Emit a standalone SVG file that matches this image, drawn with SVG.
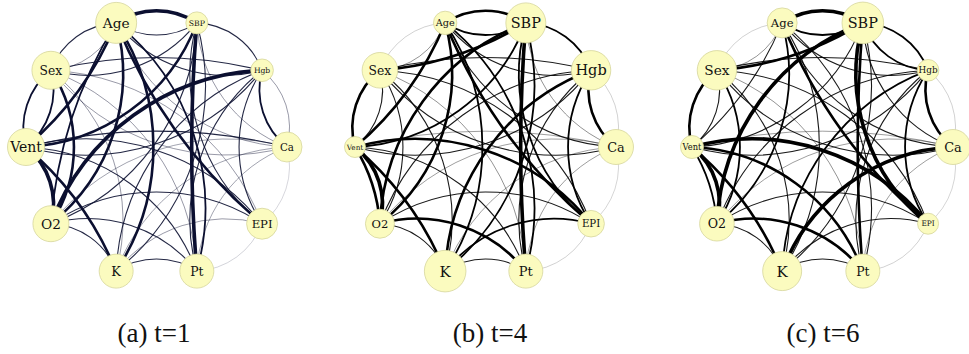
<svg xmlns="http://www.w3.org/2000/svg" xmlns:xlink="http://www.w3.org/1999/xlink" width="969" height="354" viewBox="0 0 969 354">
<style>
.e{fill:none}
.pa{stroke:#0b0f30}
.pb,.pc{stroke:#000}
.pa use,.pb use,.pc use{stroke-linecap:round}
.t0{stroke-width:.6;stroke-opacity:.28}
.t1{stroke-width:.7;stroke-opacity:.55}
.t2{stroke-width:1.1;stroke-opacity:.9}
.t3{stroke-width:1.8}
.t4{stroke-width:2.6}
.t5{stroke-width:3.6}
.n circle{fill:#fbfbbf;stroke:#d6d69c;stroke-width:.8}
.n text{font-family:"DejaVu Serif","Liberation Serif",serif;text-anchor:middle;fill:#111}
.cap{font-family:"Liberation Serif","Times New Roman",serif;font-size:27px;fill:#111;text-anchor:middle}
</style>
<defs>
<path id="a1" class="e" d="M130.5 0A73.2 73.2 0 0 0 105.58 76.71"/>
<path id="o1" class="e" d="M130.5 0A73.2 73.2 0 0 1 105.58 76.71"/>
<path id="b1" class="e" d="M130.5 0A170.4 170.4 0 0 0 105.58 76.71"/>
<path id="a2" class="e" d="M130.5 0A139.3 139.3 0 0 0 40.33 124.11"/>
<path id="b2" class="e" d="M130.5 0A324.2 324.2 0 0 0 40.33 124.11"/>
<path id="a3" class="e" d="M130.5 0A191.8 191.8 0 0 0 -40.33 124.11"/>
<path id="p3" class="e" d="M130.5 0A446.3 446.3 0 0 1 -40.33 124.11"/>
<path id="a4" class="e" d="M130.5 0A225.4 225.4 0 0 0 -105.58 76.71"/>
<path id="b4" class="e" d="M130.5 0A524.5 524.5 0 0 0 -105.58 76.71"/>
<path id="o4" class="e" d="M130.5 0A225.4 225.4 0 0 1 -105.58 76.71"/>
<path id="s4" class="e" d="M130.5 0A1500 1500 0 0 0 -105.58 76.71"/>
<path id="a5" class="e" d="M130.5 0A237 237 0 0 0 -130.5 0"/>
<path id="o5" class="e" d="M130.5 0A237 237 0 0 1 -130.5 0"/>
<path id="b5" class="e" d="M130.5 0A551.6 551.6 0 0 0 -130.5 0"/>
</defs>

<!-- Panel (a) -->
<g transform="translate(156.5,147)">
<g id="connectors-a" class="pa">
<use href="#o1" transform="rotate(0)" class="t0"/>
<use href="#o1" transform="rotate(36)" class="t0"/>
<use href="#a1" transform="rotate(72)" class="t2"/>
<use href="#a1" transform="rotate(108)" class="t2"/>
<use href="#a1" transform="rotate(144)" class="t5"/>
<use href="#o1" transform="rotate(180)" class="t3"/>
<use href="#a1" transform="rotate(180)" class="t3"/>
<use href="#o1" transform="rotate(216)" class="t2"/>
<use href="#a1" transform="rotate(216)" class="t1"/>
<use href="#o1" transform="rotate(252)" class="t5"/>
<use href="#a1" transform="rotate(252)" class="t2"/>
<use href="#o1" transform="rotate(288)" class="t2"/>
<use href="#a1" transform="rotate(324)" class="t3"/>
<use href="#o1" transform="rotate(324)" class="t1"/>
<use href="#a2" transform="rotate(0)" class="t1"/>
<use href="#a2" transform="rotate(36)" class="t1"/>
<use href="#a2" transform="rotate(72)" class="t2"/>
<use href="#b2" transform="rotate(108)" class="t4"/>
<use href="#a2" transform="rotate(144)" class="t4"/>
<use href="#b2" transform="rotate(180)" class="t4"/>
<use href="#a2" transform="rotate(216)" class="t2"/>
<use href="#a2" transform="rotate(252)" class="t2"/>
<use href="#a2" transform="rotate(288)" class="t1"/>
<use href="#a2" transform="rotate(324)" class="t2"/>
<use href="#a3" transform="rotate(0)" class="t1"/>
<use href="#a3" transform="rotate(36)" class="t2"/>
<use href="#a3" transform="rotate(72)" class="t2"/>
<use href="#a3" transform="rotate(108)" class="t1"/>
<use href="#a3" transform="rotate(144)" class="t4"/>
<use href="#p3" transform="rotate(144)" class="t3"/>
<use href="#a3" transform="rotate(180)" class="t4"/>
<use href="#p3" transform="rotate(216)" class="t2"/>
<use href="#a3" transform="rotate(252)" class="t1"/>
<use href="#a3" transform="rotate(288)" class="t2"/>
<use href="#a3" transform="rotate(324)" class="t2"/>
<use href="#a4" transform="rotate(0)" class="t1"/>
<use href="#a4" transform="rotate(36)" class="t2"/>
<use href="#a4" transform="rotate(72)" class="t1"/>
<use href="#a4" transform="rotate(108)" class="t4"/>
<use href="#a4" transform="rotate(144)" class="t2"/>
<use href="#a4" transform="rotate(180)" class="t2"/>
<use href="#a4" transform="rotate(216)" class="t1"/>
<use href="#b4" transform="rotate(252)" class="t4"/>
<use href="#s4" transform="rotate(288)" class="t5"/>
<use href="#a4" transform="rotate(324)" class="t2"/>
<use href="#b5" transform="rotate(0)" class="t2"/>
<use href="#a5" transform="rotate(36)" class="t1"/>
<use href="#a5" transform="rotate(72)" class="t3"/>
<use href="#a5" transform="rotate(108)" class="t2"/>
<use href="#o5" transform="rotate(144)" class="t5"/>
</g>
<g id="a-Ca" class="n"><circle cx="130.5" cy="0" r="15"/><text x="130.5" y="3.7" font-size="10.3">Ca</text></g>
<g id="a-EPI" class="n"><circle cx="105.58" cy="76.71" r="15.5"/><text x="105.58" y="80.9" font-size="11.6">EPI</text></g>
<g id="a-Pt" class="n"><circle cx="40.33" cy="124.11" r="17"/><text x="40.33" y="128.6" font-size="12.4">Pt</text></g>
<g id="a-K" class="n"><circle cx="-40.33" cy="124.11" r="17"/><text x="-40.33" y="128.8" font-size="12.9">K</text></g>
<g id="a-O2" class="n"><circle cx="-105.58" cy="76.71" r="18"/><text x="-105.58" y="81.6" font-size="13.7">O2</text></g>
<g id="a-Vent" class="n"><circle cx="-130.5" cy="0" r="18.5"/><text x="-130.5" y="5" font-size="14">Vent</text></g>
<g id="a-Sex" class="n"><circle cx="-105.58" cy="-76.71" r="19"/><text x="-105.58" y="-72.3" font-size="12.3">Sex</text></g>
<g id="a-Age" class="n"><circle cx="-40.33" cy="-124.11" r="20.5"/><text x="-40.33" y="-119.2" font-size="13.7">Age</text></g>
<g id="a-SBP" class="n"><circle cx="40.33" cy="-124.11" r="11"/><text x="40.33" y="-121.3" font-size="7.7">SBP</text></g>
<g id="a-Hgb" class="n"><circle cx="105.58" cy="-76.71" r="11.3"/><text x="105.58" y="-73.9" font-size="7.6">Hgb</text></g>
</g>

<!-- Panel (b) -->
<g transform="translate(485.5,147)">
<g id="connectors-b" class="pb">
<use href="#o1" transform="rotate(0)" class="t0"/>
<use href="#o1" transform="rotate(36)" class="t0"/>
<use href="#a1" transform="rotate(72)" class="t2"/>
<use href="#a1" transform="rotate(108)" class="t2"/>
<use href="#a1" transform="rotate(144)" class="t5"/>
<use href="#b1" transform="rotate(144)" class="t4"/>
<use href="#o1" transform="rotate(180)" class="t4"/>
<use href="#a1" transform="rotate(180)" class="t2"/>
<use href="#o1" transform="rotate(216)" class="t0"/>
<use href="#a1" transform="rotate(216)" class="t1"/>
<use href="#o1" transform="rotate(252)" class="t4"/>
<use href="#a1" transform="rotate(252)" class="t3"/>
<use href="#o1" transform="rotate(288)" class="t3"/>
<use href="#a1" transform="rotate(324)" class="t4"/>
<use href="#o1" transform="rotate(324)" class="t0"/>
<use href="#a2" transform="rotate(0)" class="t1"/>
<use href="#a2" transform="rotate(36)" class="t3"/>
<use href="#a2" transform="rotate(72)" class="t4"/>
<use href="#b2" transform="rotate(108)" class="t4"/>
<use href="#a2" transform="rotate(144)" class="t2"/>
<use href="#b2" transform="rotate(180)" class="t4"/>
<use href="#b2" transform="rotate(216)" class="t4"/>
<use href="#a2" transform="rotate(252)" class="t2"/>
<use href="#a2" transform="rotate(288)" class="t1"/>
<use href="#a2" transform="rotate(324)" class="t3"/>
<use href="#a3" transform="rotate(0)" class="t1"/>
<use href="#a3" transform="rotate(36)" class="t2"/>
<use href="#a3" transform="rotate(72)" class="t2"/>
<use href="#a3" transform="rotate(108)" class="t2"/>
<use href="#a3" transform="rotate(144)" class="t4"/>
<use href="#a3" transform="rotate(180)" class="t3"/>
<use href="#p3" transform="rotate(216)" class="t2"/>
<use href="#a3" transform="rotate(252)" class="t2"/>
<use href="#a3" transform="rotate(288)" class="t3"/>
<use href="#a3" transform="rotate(324)" class="t2"/>
<use href="#a4" transform="rotate(0)" class="t1"/>
<use href="#a4" transform="rotate(36)" class="t4"/>
<use href="#a4" transform="rotate(72)" class="t1"/>
<use href="#a4" transform="rotate(108)" class="t3"/>
<use href="#o4" transform="rotate(144)" class="t4"/>
<use href="#a4" transform="rotate(180)" class="t2"/>
<use href="#a4" transform="rotate(216)" class="t2"/>
<use href="#b4" transform="rotate(252)" class="t4"/>
<use href="#s4" transform="rotate(288)" class="t5"/>
<use href="#a4" transform="rotate(324)" class="t4"/>
<use href="#b5" transform="rotate(0)" class="t1"/>
<use href="#a5" transform="rotate(36)" class="t2"/>
<use href="#a5" transform="rotate(72)" class="t3"/>
<use href="#a5" transform="rotate(108)" class="t3"/>
<use href="#o5" transform="rotate(144)" class="t2"/>
</g>
<g id="b-Ca" class="n"><circle cx="130.5" cy="0" r="17.5"/><text x="130.5" y="4.6" font-size="12.9">Ca</text></g>
<g id="b-EPI" class="n"><circle cx="105.58" cy="76.71" r="13.3"/><text x="105.58" y="80.4" font-size="10.2">EPI</text></g>
<g id="b-Pt" class="n"><circle cx="40.33" cy="124.11" r="17"/><text x="40.33" y="128.7" font-size="13">Pt</text></g>
<g id="b-K" class="n"><circle cx="-40.33" cy="124.11" r="20.8"/><text x="-40.33" y="129.6" font-size="15">K</text></g>
<g id="b-O2" class="n"><circle cx="-105.58" cy="76.71" r="14.5"/><text x="-105.58" y="80.8" font-size="11.5">O2</text></g>
<g id="b-Vent" class="n"><circle cx="-130.5" cy="0" r="10.5"/><text x="-130.5" y="2.6" font-size="7.3">Vent</text></g>
<g id="b-Sex" class="n"><circle cx="-105.58" cy="-76.71" r="17.8"/><text x="-105.58" y="-72.3" font-size="12.3">Sex</text></g>
<g id="b-Age" class="n"><circle cx="-40.33" cy="-124.11" r="11.7"/><text x="-40.33" y="-120.6" font-size="9.7">Age</text></g>
<g id="b-SBP" class="n"><circle cx="40.33" cy="-124.11" r="20"/><text x="40.33" y="-119" font-size="14.4">SBP</text></g>
<g id="b-Hgb" class="n"><circle cx="105.58" cy="-76.71" r="19.7"/><text x="105.58" y="-71.6" font-size="14.5">Hgb</text></g>
</g>

<!-- Panel (c) -->
<g transform="translate(822.5,147)">
<g id="connectors-c" class="pc">
<use href="#o1" transform="rotate(0)" class="t0"/>
<use href="#o1" transform="rotate(36)" class="t0"/>
<use href="#a1" transform="rotate(72)" class="t2"/>
<use href="#a1" transform="rotate(108)" class="t2"/>
<use href="#a1" transform="rotate(144)" class="t5"/>
<use href="#b1" transform="rotate(144)" class="t3"/>
<use href="#o1" transform="rotate(180)" class="t4"/>
<use href="#a1" transform="rotate(180)" class="t2"/>
<use href="#o1" transform="rotate(216)" class="t0"/>
<use href="#a1" transform="rotate(216)" class="t1"/>
<use href="#o1" transform="rotate(252)" class="t5"/>
<use href="#a1" transform="rotate(252)" class="t3"/>
<use href="#o1" transform="rotate(288)" class="t3"/>
<use href="#a1" transform="rotate(288)" class="t3"/>
<use href="#a1" transform="rotate(324)" class="t4"/>
<use href="#o1" transform="rotate(324)" class="t0"/>
<use href="#a2" transform="rotate(0)" class="t1"/>
<use href="#a2" transform="rotate(36)" class="t2"/>
<use href="#a2" transform="rotate(72)" class="t4"/>
<use href="#b2" transform="rotate(108)" class="t4"/>
<use href="#a2" transform="rotate(144)" class="t3"/>
<use href="#b2" transform="rotate(180)" class="t2"/>
<use href="#b2" transform="rotate(216)" class="t4"/>
<use href="#a2" transform="rotate(252)" class="t2"/>
<use href="#a2" transform="rotate(288)" class="t2"/>
<use href="#a2" transform="rotate(324)" class="t3"/>
<use href="#a3" transform="rotate(0)" class="t5"/>
<use href="#a3" transform="rotate(36)" class="t2"/>
<use href="#a3" transform="rotate(72)" class="t4"/>
<use href="#a3" transform="rotate(108)" class="t2"/>
<use href="#a3" transform="rotate(144)" class="t3"/>
<use href="#a3" transform="rotate(180)" class="t2"/>
<use href="#p3" transform="rotate(216)" class="t2"/>
<use href="#a3" transform="rotate(252)" class="t2"/>
<use href="#a3" transform="rotate(288)" class="t5"/>
<use href="#a3" transform="rotate(324)" class="t2"/>
<use href="#a4" transform="rotate(0)" class="t1"/>
<use href="#a4" transform="rotate(36)" class="t5"/>
<use href="#a4" transform="rotate(72)" class="t1"/>
<use href="#a4" transform="rotate(108)" class="t2"/>
<use href="#o4" transform="rotate(144)" class="t5"/>
<use href="#a4" transform="rotate(180)" class="t2"/>
<use href="#a4" transform="rotate(216)" class="t2"/>
<use href="#b4" transform="rotate(252)" class="t4"/>
<use href="#s4" transform="rotate(288)" class="t4"/>
<use href="#a4" transform="rotate(324)" class="t3"/>
<use href="#b5" transform="rotate(0)" class="t1"/>
<use href="#a5" transform="rotate(36)" class="t2"/>
<use href="#a5" transform="rotate(72)" class="t2"/>
<use href="#a5" transform="rotate(108)" class="t2"/>
<use href="#o5" transform="rotate(144)" class="t2"/>
</g>
<g id="c-Ca" class="n"><circle cx="130.5" cy="0" r="17.5"/><text x="130.5" y="4.6" font-size="12.9">Ca</text></g>
<g id="c-EPI" class="n"><circle cx="105.58" cy="76.71" r="10.5"/><text x="105.58" y="79.4" font-size="7.4">EPI</text></g>
<g id="c-Pt" class="n"><circle cx="40.33" cy="124.11" r="17"/><text x="40.33" y="128.6" font-size="12.4">Pt</text></g>
<g id="c-K" class="n"><circle cx="-40.33" cy="124.11" r="19.5"/><text x="-40.33" y="129.5" font-size="15">K</text></g>
<g id="c-O2" class="n"><circle cx="-105.58" cy="76.71" r="17.3"/><text x="-105.58" y="81.2" font-size="12.6">O2</text></g>
<g id="c-Vent" class="n"><circle cx="-130.5" cy="0" r="11.5"/><text x="-130.5" y="3" font-size="8.3">Vent</text></g>
<g id="c-Sex" class="n"><circle cx="-105.58" cy="-76.71" r="19.7"/><text x="-105.58" y="-71.8" font-size="13.7">Sex</text></g>
<g id="c-Age" class="n"><circle cx="-40.33" cy="-124.11" r="15"/><text x="-40.33" y="-119.9" font-size="11.6">Age</text></g>
<g id="c-SBP" class="n"><circle cx="40.33" cy="-124.11" r="20.8"/><text x="40.33" y="-119" font-size="14.4">SBP</text></g>
<g id="c-Hgb" class="n"><circle cx="105.58" cy="-76.71" r="10.8"/><text x="105.58" y="-73.6" font-size="8.8">Hgb</text></g>
</g>

<text class="cap" x="154" y="342">(a) t=1</text>
<text class="cap" x="490" y="342">(b) t=4</text>
<text class="cap" x="823" y="342">(c) t=6</text>
</svg>
